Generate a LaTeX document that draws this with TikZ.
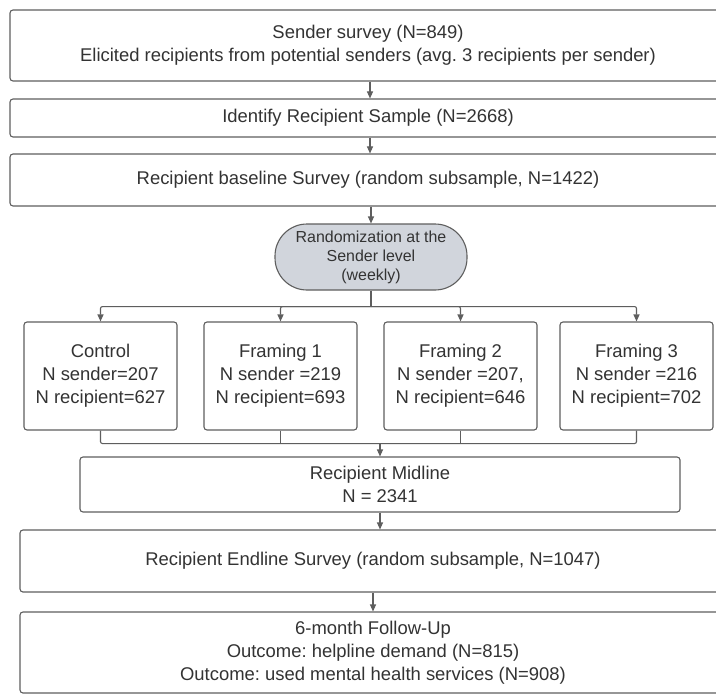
\documentclass[tikz,border=0pt]{standalone}
\usepackage{fontspec}
\setmainfont{Liberation Sans}
\usepackage{xcolor}
\usetikzlibrary{arrows.meta, positioning, calc}

\definecolor{linegray}{HTML}{5E5E5E}
\definecolor{textgray}{HTML}{333333}
\definecolor{ovalfill}{HTML}{D1D5DC}
\frenchspacing

\begin{document}
\begin{tikzpicture}[
  x=1bp, y=-1bp,
  >={Triangle[length=7bp,width=6bp]},
  stagebox/.style={rectangle, draw=linegray, line width=1.1bp, rounded corners=3bp,
    align=center, text=textgray, inner sep=0pt, font=\fontsize{18.5}{23}\selectfont},
  armbox/.style={stagebox, minimum width=153bp, minimum height=108bp},
  randnode/.style={rectangle, draw=linegray, line width=1.1bp, rounded corners=32bp,
    fill=ovalfill, align=center, text=textgray, inner sep=0pt,
    minimum width=192bp, minimum height=66bp, font=\fontsize{16}{19}\selectfont},
  flow/.style={draw=linegray, line width=1.1bp, rounded corners=2bp}
]
  \clip (0,0) rectangle (716,697);
  \fill[white] (0,0) rectangle (716,697);

  \node[stagebox, minimum width=716bp, minimum height=71bp] (sender) at (368, 45.5)
    {Sender survey (N=849)\\Elicited recipients from potential senders (avg. 3 recipients per sender)};
  \node[stagebox, minimum width=716bp, minimum height=38bp] (ident) at (368, 118)
    {Identify Recipient Sample (N=2668)};
  \node[stagebox, minimum width=716bp, minimum height=52bp] (base) at (368, 180)
    {Recipient baseline Survey (random subsample, N=1422)};
  \node[randnode] (rand) at (371, 257) {Randomization at the\\Sender level\\(weekly)};

  \node[armbox] (ctrl) at (100.5, 376) {Control\\N sender=207\\N recipient=627};
  \node[armbox] (frameA) at (280.5, 376) {Framing 1\\N sender =219\\N recipient=693};
  \node[armbox] (frameB) at (460.5, 376) {Framing 2\\N sender =207,\\N recipient=646};
  \node[armbox] (frameC) at (636.5, 376) {Framing 3\\N sender =216\\N recipient=702};

  \node[stagebox, minimum width=600bp, minimum height=55bp] (mid) at (380, 484.5)
    {Recipient Midline\\N = 2341};
  \node[stagebox, minimum width=706bp, minimum height=62bp] (endl) at (373, 561)
    {Recipient Endline Survey (random subsample, N=1047)};
  \node[stagebox, minimum width=706bp, minimum height=81bp] (fup) at (373, 652.5)
    {6-month Follow-Up\\Outcome: helpline demand (N=815)\\Outcome: used mental health services (N=908)};

  % main line
  \draw[flow, ->] (sender.south -| 370,0) -- (ident.north -| 370,0);
  \draw[flow, ->] (ident.south -| 370,0) -- (base.north -| 370,0);
  \draw[flow, ->] (base.south -| 371,0) -- (rand.north);

  % split into arms
  \coordinate (split) at ($(rand.south)+(0,16)$);
  \draw[flow] (rand.south) -- (split);
  \draw[flow, ->] (split) -| (ctrl.north);
  \draw[flow, ->] (split) -| (frameA.north);
  \draw[flow, ->] (split) -| (frameB.north);
  \draw[flow, ->] (split) -| (frameC.north);

  % merge arms
  \coordinate (merge) at ($(ctrl.south)+(0,13)$);
  \draw[flow] (ctrl.south) |- (frameC.south |- merge) -- (frameC.south);
  \draw[flow] (frameA.south) -- (frameA.south |- merge);
  \draw[flow] (frameB.south) -- (frameB.south |- merge);
  \draw[flow, ->] (mid.north |- merge) -- (mid.north);

  \draw[flow, ->] (mid.south) -- (mid.south |- endl.north);
  \draw[flow, ->] (endl.south) -- (fup.north);
\end{tikzpicture}
\end{document}
